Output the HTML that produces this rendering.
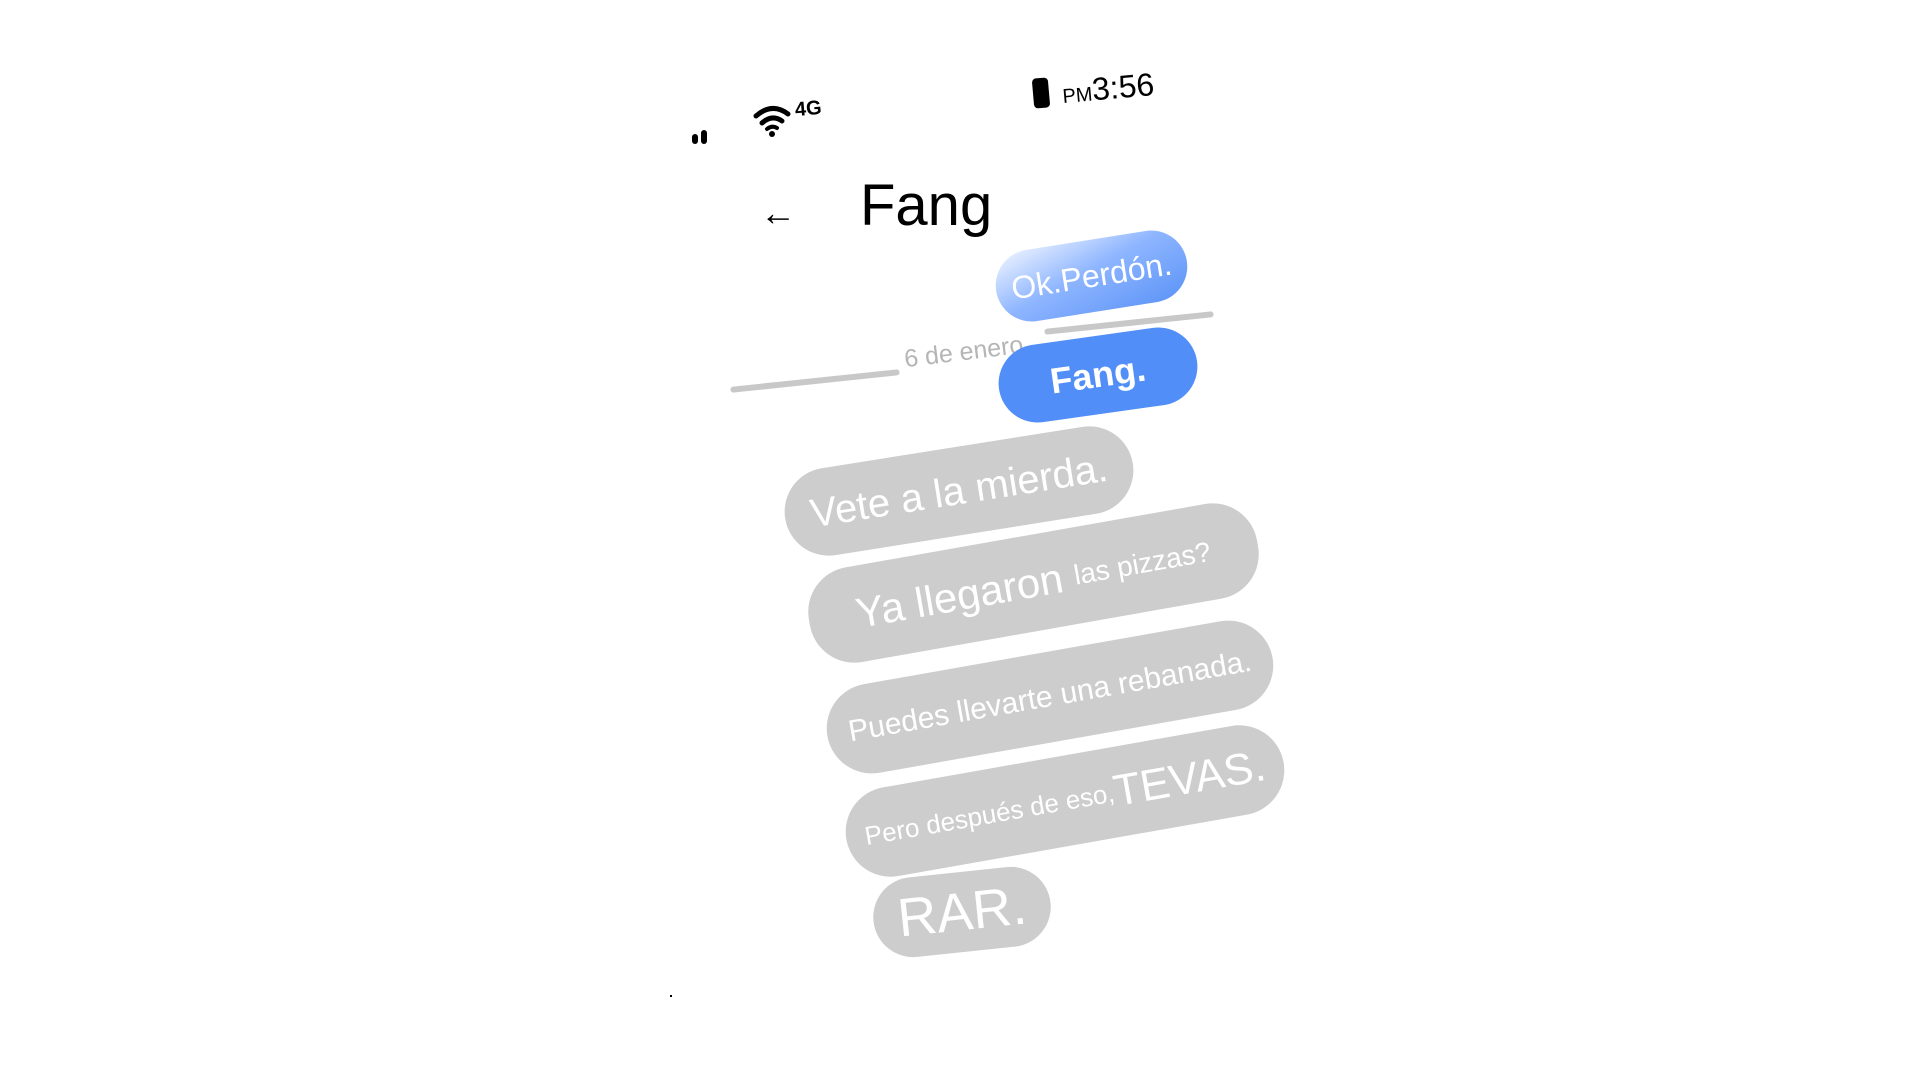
<!DOCTYPE html>
<html><head><meta charset="utf-8"><style>
html,body{margin:0;padding:0;width:1920px;height:1080px;background:#fff;overflow:hidden;font-family:"Liberation Sans",sans-serif}
.a{position:absolute;transform-origin:center center;white-space:nowrap}
.b{border-radius:45px;color:#fff;display:flex;align-items:center;justify-content:center;overflow:hidden}
.g{background:#cdcdcd}
</style></head><body>
<div class="a" style="left:692px;top:134px;width:6px;height:10px;background:#000;border-radius:3px"></div>
<div class="a" style="left:701px;top:130px;width:6px;height:14px;background:#000;border-radius:3px"></div>
<svg class="a" style="left:752px;top:102px" width="40" height="36" viewBox="0 0 40 36">
<path d="M4 14 Q20 0 36 12" stroke="#000" stroke-width="5" fill="none" stroke-linecap="round"/>
<path d="M10 21 Q20 12 30 19" stroke="#000" stroke-width="5" fill="none" stroke-linecap="round"/>
<path d="M15 27 Q20 23 25 26" stroke="#000" stroke-width="4" fill="none" stroke-linecap="round"/>
<circle cx="20" cy="32" r="3" fill="#000"/></svg>
<div class="a" style="left:795px;top:98px;font-size:20px;font-weight:bold;transform:rotate(-5deg)">4G</div>
<div class="a" style="left:1033px;top:78px;width:16px;height:30px;background:#000;border-radius:4px;transform:rotate(-5deg)"></div>
<div class="a" style="left:1062px;top:70px;font-size:32px;transform:rotate(-5deg)"><span style="font-size:20px">PM</span>3:56</div>
<div class="a" style="left:760px;top:192px;font-size:36px;font-weight:bold">←</div>
<div class="a" style="left:860px;top:172px;font-size:58px">Fang</div>
<div class="a b" style="left:995px;top:240px;width:193px;height:72px;transform:rotate(-9deg);background:linear-gradient(160deg,#f0f5ff 0%,#8fb6ff 45%,#5b93f7 100%);font-size:32px">Ok.Perdón.</div>
<div class="a" style="left:730px;top:378px;width:170px;height:6px;background:#c8c8c8;border-radius:3px;transform:rotate(-6deg)"></div>
<div class="a" style="left:904px;top:338px;font-size:25px;color:#b5b5b5;transform:rotate(-7deg)">6 de enero</div>
<div class="a" style="left:1044px;top:320px;width:170px;height:6px;background:#c8c8c8;border-radius:3px;transform:rotate(-6deg)"></div>
<div class="a b" style="left:998px;top:336px;width:200px;height:78px;transform:rotate(-8deg);background:#528ef7;font-size:36px;font-weight:bold">Fang.</div>
<div class="a b g" style="left:783px;top:447px;width:352px;height:88px;transform:rotate(-9deg);font-size:40px">Vete a la mierda.</div>
<div class="a b g" style="left:806px;top:535px;width:455px;height:96px;transform:rotate(-10deg);font-size:42px">Ya llegaron&nbsp;<span style="font-size:28px">las pizzas?</span></div>
<div class="a b g" style="left:824px;top:652px;width:452px;height:90px;transform:rotate(-10deg);font-size:30px">Puedes llevarte una rebanada.</div>
<div class="a b g" style="left:843px;top:756px;width:444px;height:90px;transform:rotate(-10deg);font-size:26px">Pero después de eso,<span style="font-size:44px">TEVAS.</span></div>
<div class="a b g" style="left:873px;top:872px;width:178px;height:80px;transform:rotate(-6deg);font-size:54px">RAR.</div>
<div class="a" style="left:670px;top:995px;width:2px;height:2px;background:#000"></div>
</body></html>
